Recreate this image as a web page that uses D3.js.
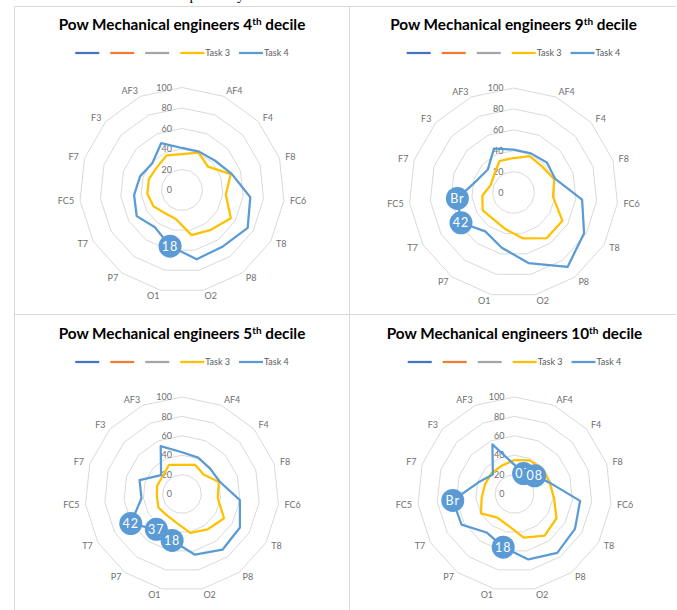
<!DOCTYPE html>
<html>
<head>
<meta charset="utf-8">
<script src="https://cdn.jsdelivr.net/npm/d3@7"></script>
<style>
  body { margin: 0; background: #fff; }
  svg { display: block; font-family: Lato, "Open Sans", sans-serif; }
</style>
</head>
<body>
<div id="chart"></div>
<script>
// electrode channels, first axis (top) has no label
const categories = ["", "AF4", "F4", "F8", "FC6", "T8", "P8", "O2", "O1", "P7", "T7", "FC5", "F7", "F3", "AF3"];
const ticks = [0, 20, 40, 60, 80, 100];
const legendNames = ["", "", "", "Task 3", "Task 4"];
const legendColours = ["#4472c4", "#ed7d31", "#a5a5a5", "#ffc000", "#5b9bd5"];

const task3Decile4 = [35, 40, 34, 50, 43, 55, 48, 45, 29, 28, 32, 34, 34, 33, 37];
const task4Decile4 = [41, 41, 43, 51, 67, 74, 68, 69, 56, 45, 51, 47, 43, 39, 50];
const labelsDecile4 = [["O1", "18"]];

const task3Decile9 = [33, 38, 37, 41, 38, 54, 54, 45, 36, 32, 34, 30, 23, 25, 33];
const task4Decile9 = [41, 41, 43, 42, 66, 78, 88, 69, 54, 46, 58, 54, 37, 33, 46];
const labelsDecile9 = [["T7", "42"], ["FC5", "Br"]];

const task3Decile5 = [30, 33, 30, 40, 37, 50, 45, 41, 30, 27, 28, 26, 27, 27, 33];
const task4Decile5 = [43, 41, 39, 41, 60, 69, 71, 64, 49, 45, 61, 42, 46, 29, 54];
const labelsDecile5 = [["T7", "42"], ["P7", "37"], ["O1", "18"]];

const task3Decile10 = [35, 38, 39, 38, 41, 50, 53, 46, 33, 30, 40, 34, 32, 32, 32];
const task4Decile10 = [30, 23, 28, 38, 68, 72, 75, 69, 56, 49, 63, 64, 39, 30, 56];
const labelsDecile10 = [["AF4", "07"], ["F4", "08"], ["FC5", "Br"], ["O1", "18"]];

// layout of the four panels
const panels = [
  { decile: "4", task3: task3Decile4, task4: task4Decile4, labels: labelsDecile4, cx: 182, titleY: 30, legendY: 53, cy: 190, radius: 102.5 },
  { decile: "9", task3: task3Decile9, task4: task4Decile9, labels: labelsDecile9, cx: 513.5, titleY: 30, legendY: 53, cy: 192.5, radius: 104.5 },
  { decile: "5", task3: task3Decile5, task4: task4Decile5, labels: labelsDecile5, cx: 182, titleY: 339, legendY: 362, cy: 494, radius: 97 },
  { decile: "10", task3: task3Decile10, task4: task4Decile10, labels: labelsDecile10, cx: 514.5, titleY: 339, legendY: 362, cy: 494, radius: 97 }
];

const width = 677, height = 610;
const svg = d3.select('#chart').append('svg')
  .attr('width', width)
  .attr('height', height);

svg.append('rect').attr('width', width).attr('height', height).attr('fill', '#fff');

// clipped caption text from the page above
svg.append('text')
  .attr('x', 172)
  .attr('y', 0)
  .style('font-family', '"Liberation Serif", serif')
  .style('font-size', '15px')
  .attr('fill', '#000')
  .text('respectively');

// panel borders
const frame = svg.append('g').attr('stroke', '#d9d9d9').attr('stroke-width', 1);
frame.append('line').attr('x1', 14.5).attr('x2', 676).attr('y1', 6.5).attr('y2', 6.5);
frame.append('line').attr('x1', 14.5).attr('x2', 676).attr('y1', 314.5).attr('y2', 314.5);
frame.append('line').attr('x1', 14.5).attr('x2', 14.5).attr('y1', 6.5).attr('y2', height);
frame.append('line').attr('x1', 349.5).attr('x2', 349.5).attr('y1', 6.5).attr('y2', height);

const angle = d3.scaleLinear()
  .domain([0, categories.length])
  .range([0, 2 * Math.PI]);

panels.forEach(p => drawRadar(p));

function drawRadar(p) {
  const r = d3.scaleLinear().domain([0, 100]).range([0, p.radius]);

  // title
  const title = svg.append('text')
    .attr('x', p.cx)
    .attr('y', p.titleY)
    .attr('text-anchor', 'middle')
    .style('font-size', '15.3px')
    .style('font-weight', 'bold')
    .attr('fill', '#000');
  title.append('tspan').text('Pow Mechanical engineers ' + p.decile);
  title.append('tspan').attr('dy', -5).style('font-size', '10px').text('th');
  title.append('tspan').attr('dy', 5).text(' decile');

  // legend
  const legend = svg.append('g');
  let lx = 0;
  legendNames.forEach((name, i) => {
    legend.append('line')
      .attr('x1', lx).attr('x2', lx + 24)
      .attr('y1', 0).attr('y2', 0)
      .attr('stroke', legendColours[i])
      .attr('stroke-width', 2.25);
    if (name) {
      const t = legend.append('text')
        .attr('x', lx + 25)
        .attr('y', 0)
        .attr('dy', '0.35em')
        .style('font-size', '9px')
        .attr('fill', '#595959')
        .text(name);
      lx += 25 + t.node().getComputedTextLength() + 9;
    } else {
      lx += 35;
    }
  });
  const legendWidth = lx - 9;
  legend.attr('transform', 'translate(' + (p.cx - legendWidth / 2) + ',' + p.legendY + ')');

  const g = svg.append('g')
    .attr('transform', 'translate(' + p.cx + ',' + p.cy + ')');

  // grid rings
  const ring = d3.lineRadial()
    .angle((d, i) => angle(i))
    .curve(d3.curveLinearClosed);
  ticks.filter(t => t > 0).forEach(t => {
    g.append('path')
      .attr('d', ring.radius(r(t))(categories))
      .attr('fill', 'none')
      .attr('stroke', '#d9d9d9')
      .attr('stroke-width', 1);
  });

  // tick labels
  g.selectAll('.tick-label')
    .data(ticks)
    .enter().append('text')
      .attr('class', 'tick-label')
      .attr('x', -10)
      .attr('y', d => -r(d))
      .attr('dy', '0.35em')
      .attr('text-anchor', 'end')
      .style('font-size', '9px')
      .attr('fill', '#6f6f6f')
      .text(d => d);

  // category labels
  g.selectAll('.cat-label')
    .data(categories)
    .enter().append('text')
      .attr('class', 'cat-label')
      .attr('x', (d, i) => Math.sin(angle(i)) * (p.radius + 6))
      .attr('y', (d, i) => -Math.cos(angle(i)) * (p.radius + 6))
      .attr('dy', '0.35em')
      .attr('text-anchor', (d, i) => {
        const s = Math.sin(angle(i));
        return Math.abs(s) < 0.05 ? 'middle' : (s > 0 ? 'start' : 'end');
      })
      .style('font-size', '9px')
      .attr('fill', '#6f6f6f')
      .text(d => d);

  // series
  const line = d3.lineRadial()
    .angle((d, i) => angle(i))
    .radius(d => r(d))
    .curve(d3.curveLinearClosed);

  g.append('path')
    .attr('d', line(p.task3))
    .attr('fill', 'none')
    .attr('stroke', legendColours[3])
    .attr('stroke-width', 2.25)
    .attr('stroke-linejoin', 'round');

  g.append('path')
    .attr('d', line(p.task4))
    .attr('fill', 'none')
    .attr('stroke', legendColours[4])
    .attr('stroke-width', 2.25)
    .attr('stroke-linejoin', 'round');

  // data label bubbles on Task 4
  p.labels.forEach(([cat, txt]) => {
    const i = categories.indexOf(cat);
    const a = angle(i);
    const rr = r(p.task4[i]);
    const x = Math.sin(a) * rr, y = -Math.cos(a) * rr;
    g.append('circle')
      .attr('cx', x).attr('cy', y)
      .attr('r', 11.5)
      .attr('fill', '#5b9bd5');
    g.append('text')
      .attr('x', x).attr('y', y)
      .attr('dy', '0.36em')
      .attr('text-anchor', 'middle')
      .style('font-size', '12.5px')
      .style('letter-spacing', '1px')
      .attr('fill', '#fff')
      .text(txt);
  });
}
</script>
</body>
</html>
